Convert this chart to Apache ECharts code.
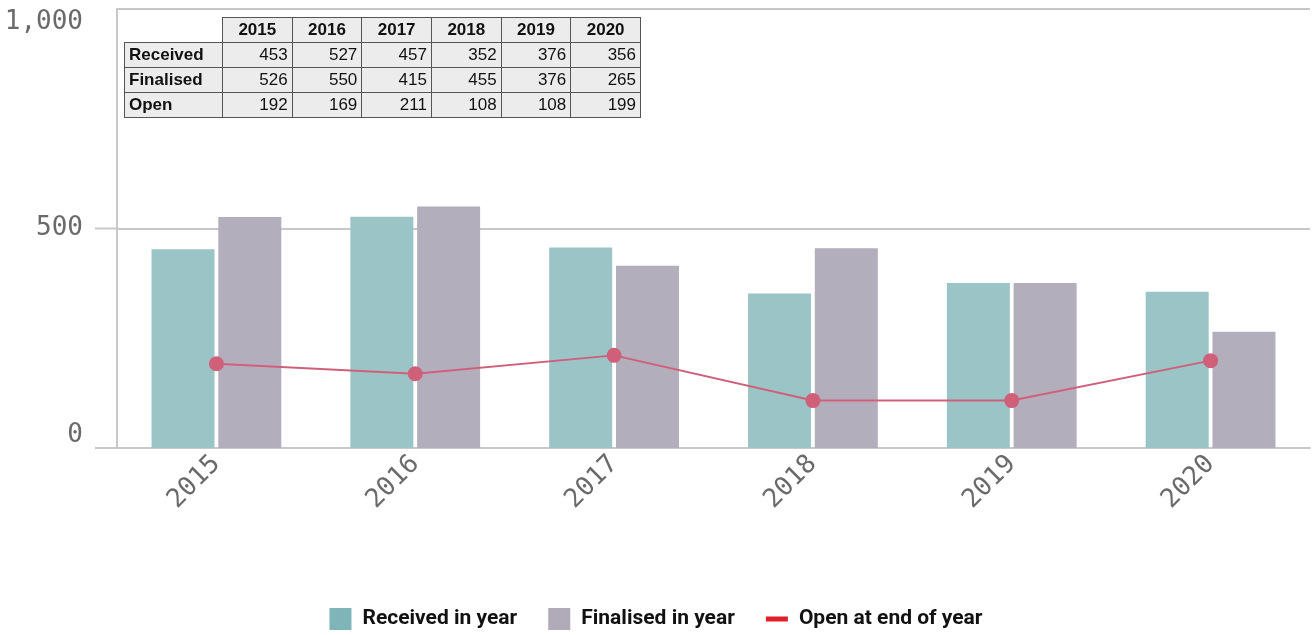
<!DOCTYPE html>
<html>
<head>
<meta charset="utf-8">
<script src="https://cdn.jsdelivr.net/npm/echarts@6/dist/echarts.min.js"></script>
<style>
  html, body { margin: 0; padding: 0; background: #fff; }
  #wrap { position: relative; width: 1312px; height: 635px; }
  #chart { width: 1312px; height: 635px; }
  #tbl {
    position: absolute; left: 124px; top: 17px; width: 517px;
    border-collapse: collapse; table-layout: fixed;
    font-family: 'Liberation Sans', Arial, sans-serif; font-size: 17px; color: #111;
  }
  #tbl td { border: 1px solid #555; background: #ececec; height: 24px; padding: 0 4px; text-align: right; }
  #tbl td.lab { text-align: left; font-weight: bold; }
  #tbl td.yr { text-align: center; font-weight: bold; }
  #tbl td.blank { background: #fff; border-top-color: #fff; border-left-color: #fff; }
</style>
</head>
<body>
<div id="wrap">
  <div id="chart"></div>
  <table id="tbl"></table>
</div>
<script>
const years = ['2015', '2016', '2017', '2018', '2019', '2020']
const received = [453, 527, 457, 352, 376, 356]
const finalised = [526, 550, 415, 455, 376, 265]
const open = [192, 169, 211, 108, 108, 199]

// data table in the corner
const tbl = document.getElementById('tbl')
let html = '<colgroup><col style="width:98px">' + years.map(() => '<col>').join('') + '</colgroup>'
html += '<tr><td class="blank"></td>' + years.map(y => `<td class="yr">${y}</td>`).join('') + '</tr>'
const rows = [['Received', received], ['Finalised', finalised], ['Open', open]]
rows.forEach(([name, vals]) => {
  html += `<tr><td class="lab">${name}</td>` + vals.map(v => `<td>${v}</td>`).join('') + '</tr>'
})
tbl.innerHTML = html

const myChart = echarts.init(document.getElementById('chart'))
const mono = "'DejaVu Sans Mono', monospace"
const lineGray = '#c8c8c8'
const option = {
  animation: false,
  grid: { left: 117, right: 2, top: 9, bottom: 187 },
  legend: {
    top: 603,
    left: 'center',
    itemWidth: 22,
    itemHeight: 22,
    itemGap: 31,
    textStyle: { fontFamily: 'Roboto', fontWeight: 'bold', fontSize: 21, color: '#111', padding: [0, 0, 0, 6] },
    data: [
      { name: 'Received in year', icon: 'rect', itemStyle: { color: '#7fb5b8' } },
      { name: 'Finalised in year', icon: 'rect', itemStyle: { color: '#b1abb9' } },
      { name: 'Open at end of year', icon: 'path://M0,0h22v5h-22z', itemStyle: { color: '#e0202a' } }
    ]
  },
  xAxis: {
    type: 'category',
    data: years,
    axisTick: { show: false },
    axisLine: { lineStyle: { color: lineGray, width: 2 } },
    axisLabel: { rotate: 45, margin: 12, fontFamily: mono, fontSize: 26, color: '#6a6a6a' }
  },
  yAxis: {
    type: 'value',
    min: 0,
    max: 1000,
    interval: 500,
    axisLine: { show: true, lineStyle: { color: lineGray, width: 2 } },
    splitLine: { lineStyle: { color: lineGray, width: 2 } },
    axisLabel: {
      margin: 34,
      fontFamily: mono,
      fontSize: 26,
      color: '#6a6a6a',
      formatter: v => v.toLocaleString('en-US'),
      verticalAlignMinLabel: 'bottom',
      verticalAlignMaxLabel: 'top'
    }
  },
  series: [
    {
      name: 'Received in year',
      type: 'bar',
      data: received,
      barWidth: 63,
      barGap: '6%',
      itemStyle: { color: '#9bc4c7' }
    },
    {
      name: 'Finalised in year',
      type: 'bar',
      data: finalised,
      barWidth: 63,
      itemStyle: { color: '#b3aebb' }
    },
    {
      name: 'Open at end of year',
      type: 'line',
      data: open,
      symbol: 'circle',
      symbolSize: 15,
      lineStyle: { color: '#d0607a', width: 2 },
      itemStyle: { color: '#d0607a' },
      z: 5
    }
  ]
}
option && myChart.setOption(option)

// the 0 and 500 lines reach a little past the y axis on the left
const stubs = [0, 500].map(v => {
  const y = myChart.convertToPixel({ yAxisIndex: 0 }, v)
  return { type: 'line', shape: { x1: 95, y1: y, x2: 118, y2: y }, style: { stroke: lineGray, lineWidth: 2 } }
})
myChart.setOption({ graphic: stubs })
</script>
</body>
</html>
